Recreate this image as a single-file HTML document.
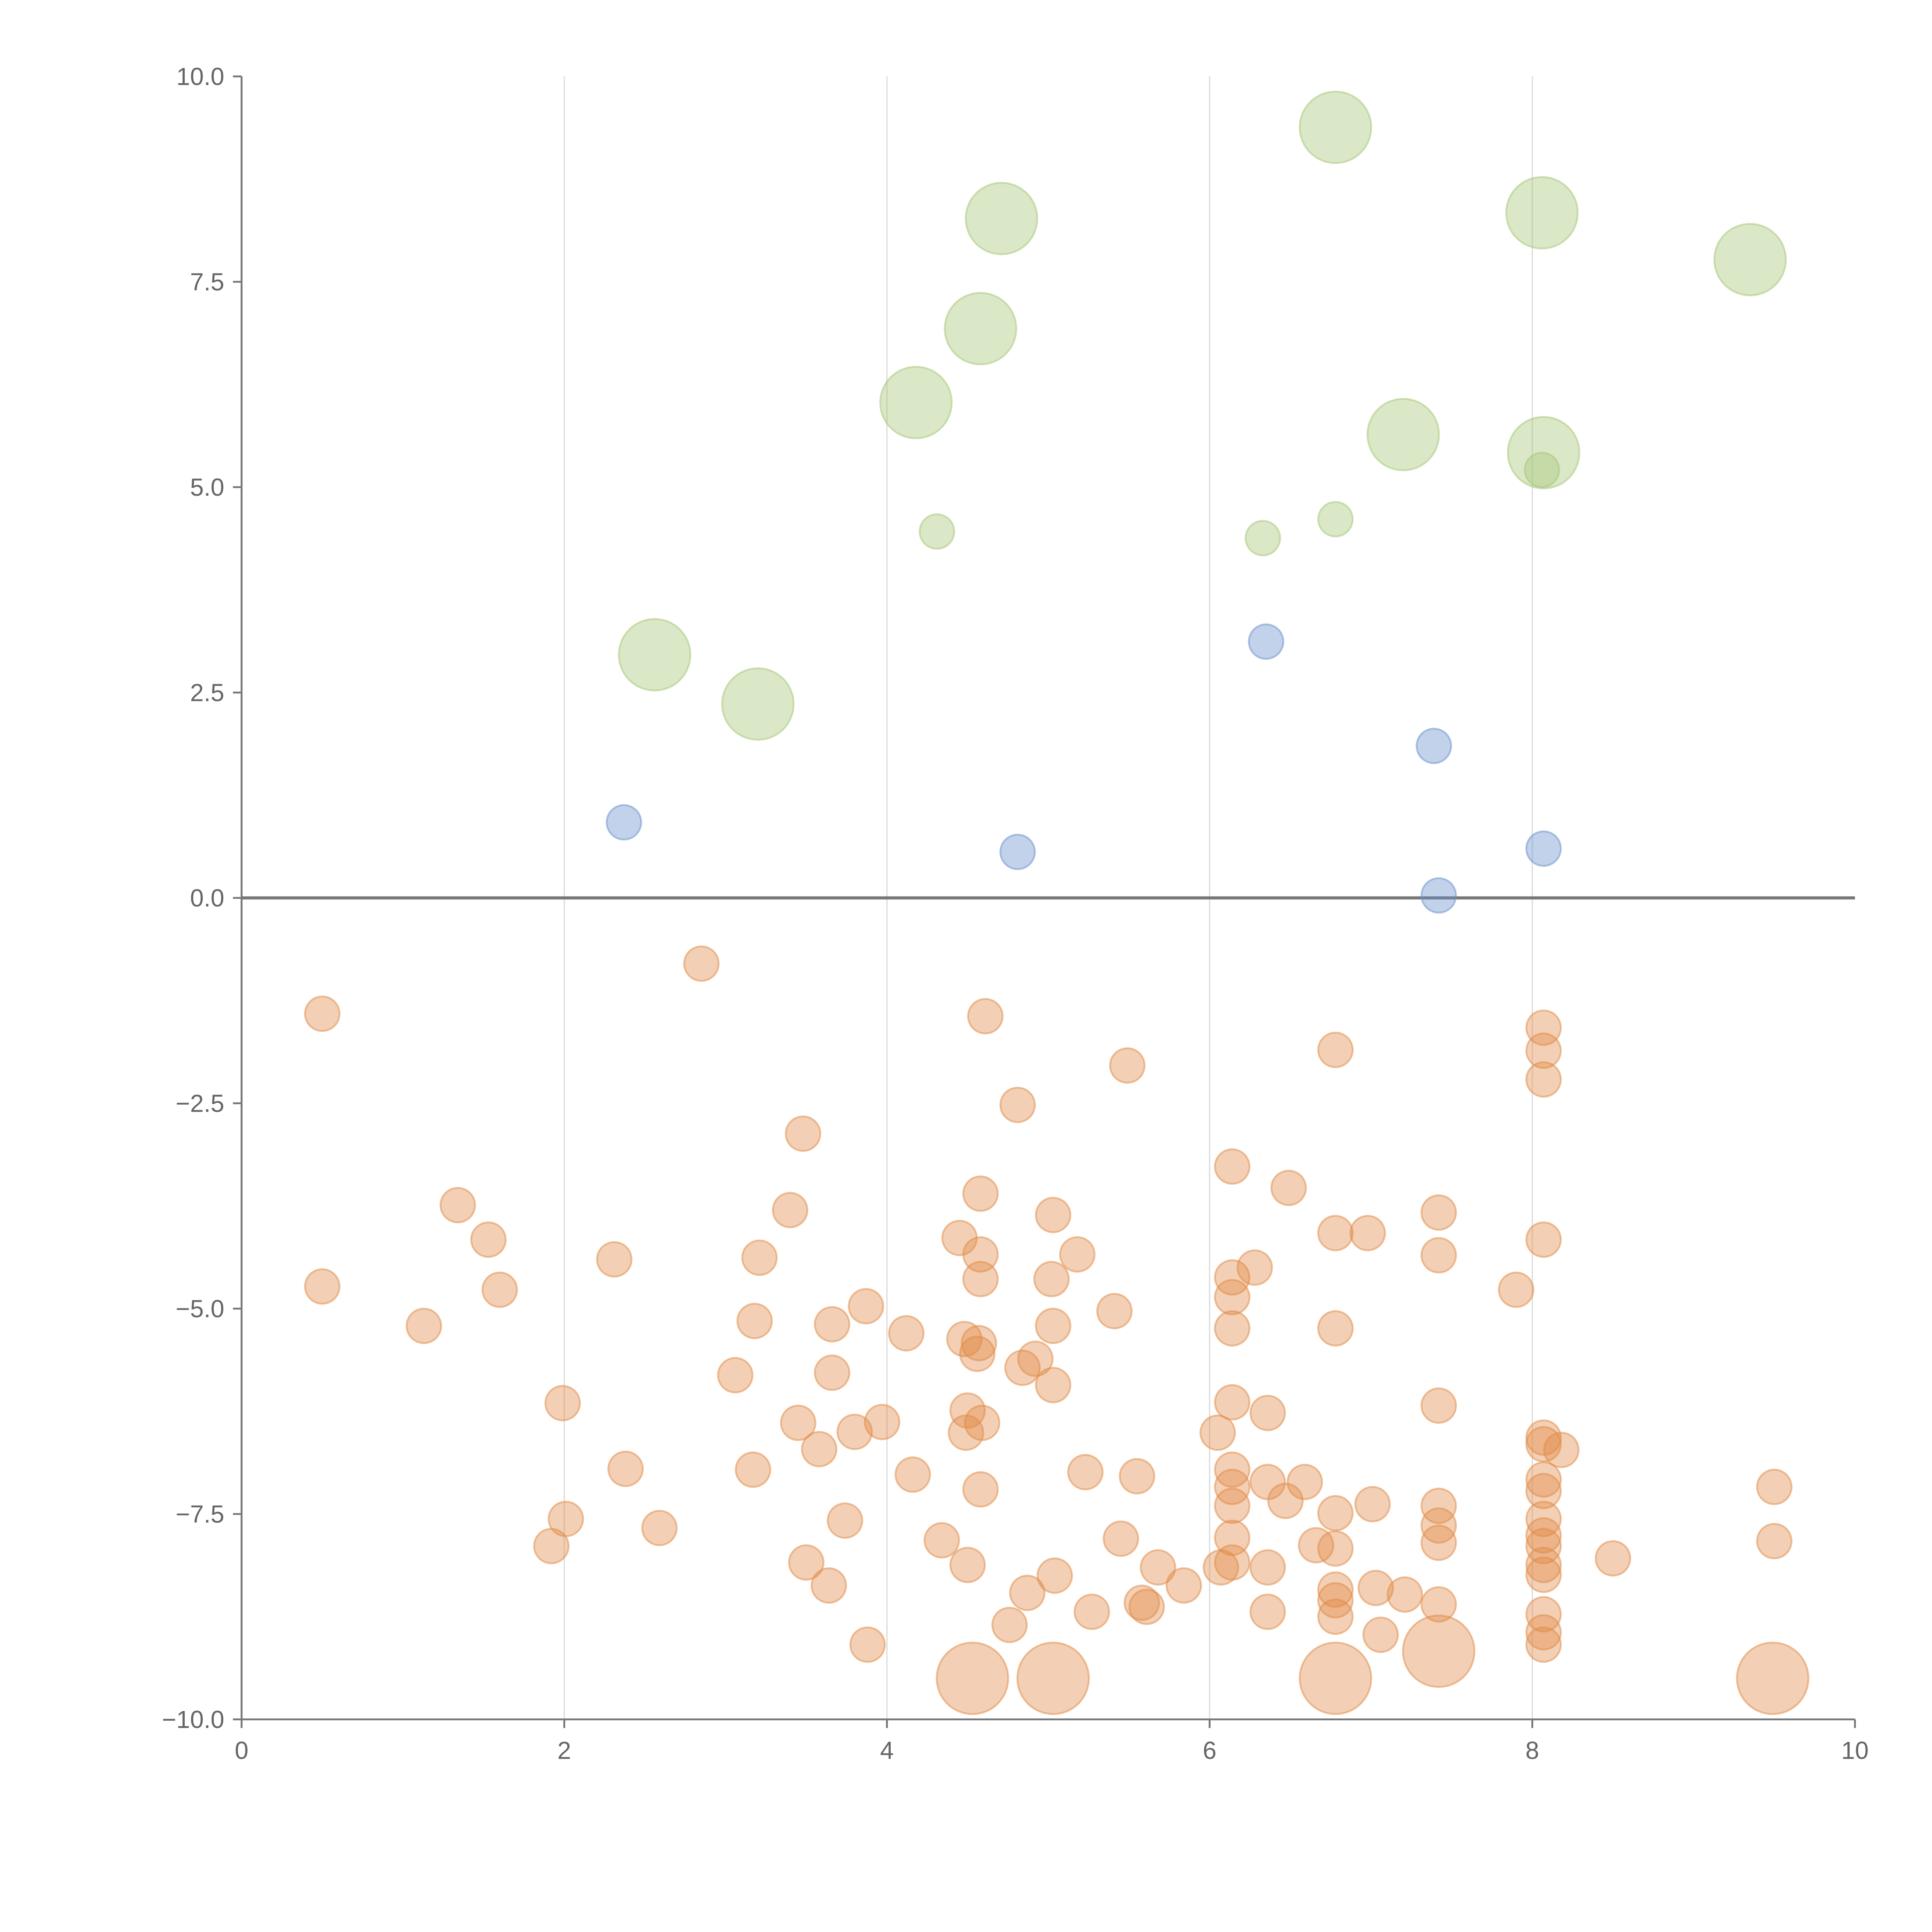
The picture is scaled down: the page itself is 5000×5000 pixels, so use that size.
<!DOCTYPE html>
<html><head><meta charset="utf-8"><style>html,body{margin:0;padding:0;background:#fff}svg{display:block}</style></head>
<body>
<svg id="chart" width="5000" height="5000" viewBox="0 0 1567.5 1567.5" xmlns="http://www.w3.org/2000/svg" font-family="Liberation Sans, sans-serif"></svg>
<script>
const xTicks=[0,2,4,6,8,10];
const yTicks=[10,7.5,5,2.5,0,-2.5,-5,-7.5,-10];
const greenBigX=[4.71,6.78,8.06,9.35,4.58,4.18,7.20,8.07,2.56,3.20];
const greenBigY=[8.27,9.38,8.34,7.77,6.93,6.03,5.64,5.42,2.96,2.36];
const greenSmallX=[4.31,6.33,6.78,8.06];
const greenSmallY=[4.46,4.38,4.61,5.21];
const blueX=[2.37,4.81,6.35,7.39,8.07,7.42];
const blueY=[0.92,0.56,3.12,1.85,0.60,0.03];
const orangeBigX=[4.53,5.03,6.78,7.42,9.49];
const orangeBigY=[-9.5,-9.5,-9.5,-9.17,-9.5];
const orangeX=[0.50,0.50,2.85,1.13,1.34,1.53,1.60,1.99,2.01,1.92,2.31,2.38,2.59,3.06,3.18,3.21,3.17,3.40,3.48,3.45,3.58,3.50,3.64,3.66,3.66,3.74,3.80,3.87,3.97,3.88,4.12,4.16,4.34,4.45,4.48,4.50,4.49,4.57,4.56,4.59,4.58,4.58,4.58,4.58,4.50,4.61,4.81,4.76,4.84,4.92,4.87,5.03,5.02,5.03,5.03,5.04,5.18,5.23,5.27,5.41,5.49,5.45,5.55,5.68,5.58,5.61,5.84,6.05,6.07,6.14,6.14,6.14,6.14,6.14,6.14,6.14,6.14,6.14,6.14,6.28,6.36,6.36,6.36,6.36,6.47,6.49,6.59,6.66,6.78,6.78,6.78,6.78,6.78,6.78,6.78,6.78,6.98,7.01,7.03,7.06,7.21,7.42,7.42,7.42,7.42,7.42,7.42,7.42,7.90,8.07,8.07,8.07,8.07,8.07,8.07,8.07,8.07,8.07,8.07,8.07,8.07,8.07,8.07,8.07,8.07,8.18,8.50,9.50,9.50];
const orangeY=[-1.41,-4.73,-0.80,-5.21,-3.74,-4.16,-4.77,-6.15,-7.56,-7.89,-4.40,-6.95,-7.67,-5.81,-5.15,-4.38,-6.96,-3.80,-2.87,-6.39,-6.71,-8.09,-8.37,-5.19,-5.78,-7.58,-6.50,-4.97,-6.38,-9.09,-5.30,-7.02,-7.82,-4.14,-5.37,-6.24,-6.51,-5.42,-5.55,-6.39,-3.60,-4.34,-4.64,-7.20,-8.12,-1.44,-2.52,-8.85,-5.72,-5.61,-8.46,-3.86,-4.64,-5.21,-5.93,-8.25,-4.34,-6.99,-8.69,-5.03,-2.04,-7.80,-7.04,-8.15,-8.58,-8.63,-8.37,-6.51,-8.15,-3.27,-4.62,-4.86,-5.24,-6.14,-6.96,-7.17,-7.40,-7.79,-8.09,-4.50,-6.27,-7.11,-8.15,-8.69,-7.34,-3.53,-7.11,-7.88,-1.85,-4.08,-5.24,-7.49,-7.92,-8.42,-8.55,-8.75,-4.08,-7.38,-8.40,-8.97,-8.48,-3.83,-4.35,-6.18,-7.40,-7.64,-7.85,-8.60,-4.77,-1.58,-1.86,-2.21,-4.16,-6.57,-6.65,-7.08,-7.22,-7.56,-7.76,-7.89,-8.12,-8.24,-8.72,-8.94,-9.09,-6.72,-8.04,-7.17,-7.83];

const NS='http://www.w3.org/2000/svg';
const svg=document.getElementById('chart');
const L=196,R=1505,T=62,B=1395;
const sx=v=>L+(v-0)/(10-0)*(R-L);
const sy=v=>B-(v+10)/20*(B-T);
function mk(tag,attrs){const e=document.createElementNS(NS,tag);for(const k in attrs)e.setAttribute(k,attrs[k]);svg.appendChild(e);return e;}

xTicks.forEach(t=>{
  if(t>0&&t<10){const g=mk('line',{x1:sx(t),x2:sx(t),y1:T,y2:B,stroke:'#dcdcdc','stroke-width':1});
  
  }
  const tk=mk('line',{x1:sx(t),x2:sx(t),y1:B,y2:B+7,stroke:'#777','stroke-width':1.5});
  
  
  const tx=mk('text',{x:sx(t),y:B+32,'text-anchor':'middle','font-size':20,fill:'#666'});
  tx.textContent=String(t);
  
  
});
yTicks.forEach(t=>{
  const tk=mk('line',{x1:L-7,x2:L,y1:sy(t),y2:sy(t),stroke:'#777','stroke-width':1.5});
  
  
  const tx=mk('text',{x:L-14,y:sy(t)+7,'text-anchor':'end','font-size':20,fill:'#666'});
  tx.textContent=(t<0?'\u2212'+Math.abs(t).toFixed(1):t.toFixed(1));
  
  
});
const ax1=mk('line',{x1:L,x2:L,y1:T,y2:B,stroke:'#777','stroke-width':1.5});


const ax2=mk('line',{x1:L,x2:R,y1:B,y2:B,stroke:'#777','stroke-width':1.5});


const zl=mk('line',{x1:L,x2:R,y1:sy(0),y2:sy(0),stroke:'#777','stroke-width':2.5});



function draw(xs,ys,r,col,name){
  xs.forEach((x,i)=>{
    const c=mk('circle',{cx:sx(x),cy:sy(ys[i]),r:r,fill:col,'fill-opacity':0.4,stroke:col,'stroke-opacity':0.5,'stroke-width':1.5});
    
    
  });
}
draw(orangeX,orangeY,14,'#e08a45','orange-bubble');
draw(orangeBigX,orangeBigY,29,'#e08a45','orange-large-bubble');
draw(greenBigX,greenBigY,29,'#a6c676','green-large-bubble');
draw(greenSmallX,greenSmallY,14,'#a6c676','green-bubble');
draw(blueX,blueY,14,'#6a8fcc','blue-bubble');
</script>
</body></html>
